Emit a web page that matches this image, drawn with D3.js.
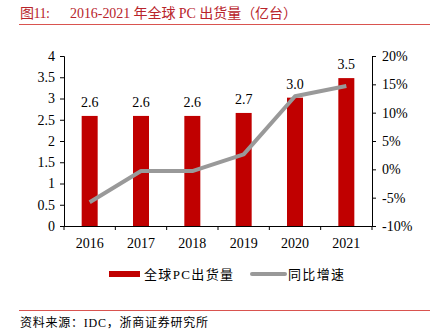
<!DOCTYPE html>
<html><head><meta charset="utf-8">
<script src="https://cdn.jsdelivr.net/npm/d3@7"></script>
<style>
body{margin:0;background:#fff;}
svg{display:block;}
text{font-family:"Liberation Serif","Noto Sans CJK SC",serif;}
</style></head>
<body>
<script>
const years = ["2016","2017","2018","2019","2020","2021"];
const shipments = [2.59, 2.59, 2.59, 2.66, 3.02, 3.48];
const growth = [-5.8, -0.3, -0.3, 2.65, 12.9, 14.7];
const leftTicks = [0,0.5,1,1.5,2,2.5,3,3.5,4];
const rightTicks = [-10,-5,0,5,10,15,20];

(function(){
const W=430,H=335;
const svg=d3.select("body").append("svg").attr("width",W).attr("height",H);
const red="#C00000", gray="#999999", titleRed="#B8242B";

// title
svg.append("text").attr("x",20).attr("y",18).attr("fill",titleRed).attr("font-size",14)
  .attr("textLength",30).attr("lengthAdjust","spacing").text("图11:");
svg.append("text").attr("x",70).attr("y",18).attr("fill",titleRed).attr("font-size",14)
  .attr("textLength",227).attr("lengthAdjust","spacing")
  .text("2016-2021 年全球 PC 出货量（亿台）");
svg.append("line").attr("x1",19).attr("x2",430).attr("y1",24.5).attr("y2",24.5)
  .attr("stroke","#D9534F").attr("stroke-width",1.2);

const pl=64,pr=372,pt=56,pb=226;
const x=d3.scaleBand().domain(years).range([pl,pr]);
const yL=d3.scaleLinear().domain([0,4]).range([pb,pt]);
const yR=d3.scaleLinear().domain([-10,20]).range([pb,pt]);

// bars
svg.selectAll("rect.bar").data(years).enter().append("rect")
  .attr("x",d=>x(d)+x.bandwidth()/2-8).attr("width",16)
  .attr("y",(d,i)=>yL(shipments[i])).attr("height",(d,i)=>pb-yL(shipments[i]))
  .attr("fill",red);

// value labels
svg.selectAll("text.val").data(years).enter().append("text")
  .attr("x",d=>x(d)+x.bandwidth()/2).attr("y",(d,i)=>yL(shipments[i])-9)
  .attr("text-anchor","middle").attr("font-size",14).attr("fill","#000")
  .text((d,i)=>shipments[i].toFixed(1));

// line
const line=d3.line().x((d,i)=>x(years[i])+x.bandwidth()/2).y(d=>yR(d));
svg.append("path").datum(growth).attr("d",line).attr("fill","none")
  .attr("stroke",gray).attr("stroke-width",4).attr("stroke-linejoin","round");

// axes
const axL=svg.append("g").attr("transform",`translate(${pl},0)`)
  .call(d3.axisLeft(yL).tickValues(leftTicks).tickSize(4).tickPadding(5).tickFormat(d=>d));
const axR=svg.append("g").attr("transform",`translate(${pr},0)`)
  .call(d3.axisRight(yR).tickValues(rightTicks).tickSize(4).tickPadding(6).tickFormat(d=>d+"%"));
const axB=svg.append("g").attr("transform",`translate(0,${pb})`)
  .call(d3.axisBottom(x).tickSize(0).tickPadding(12));
const bounds=years.map(d=>x(d)).concat([pr]);
svg.selectAll("line.bt").data(bounds).enter().append("line")
  .attr("x1",d=>d).attr("x2",d=>d).attr("y1",pb).attr("y2",pb+4)
  .attr("stroke","#000");
[axL,axR,axB].forEach(a=>{
  a.selectAll("path").attr("stroke","#000").attr("stroke-width",1);
  a.selectAll("line").attr("stroke","#000");
  a.selectAll("text").attr("font-size",14).attr("fill","#000")
    .attr("font-family","Liberation Serif, serif");
});
axB.select("path").attr("d",`M${pl},0.5H${pr}`);

// legend
const ly=274;
svg.append("rect").attr("x",109).attr("y",ly-3).attr("width",31).attr("height",6).attr("fill",red);
svg.append("text").attr("x",144).attr("y",ly+5).attr("font-size",13)
  .attr("textLength",89).attr("lengthAdjust","spacing").text("全球PC出货量");
svg.append("line").attr("x1",252).attr("x2",285).attr("y1",ly).attr("y2",ly)
  .attr("stroke",gray).attr("stroke-width",4).attr("stroke-linecap","round");
svg.append("text").attr("x",288).attr("y",ly+5).attr("font-size",13)
  .attr("textLength",56).attr("lengthAdjust","spacing").text("同比增速");

// footer
svg.append("line").attr("x1",19).attr("x2",430).attr("y1",310.5).attr("y2",310.5)
  .attr("stroke","#D9534F").attr("stroke-width",1.2);
svg.append("text").attr("x",20).attr("y",327).attr("font-size",12).attr("fill","#000")
  .attr("textLength",188).attr("lengthAdjust","spacing")
  .text("资料来源：IDC，浙商证券研究所");
})();
</script>
</body></html>
